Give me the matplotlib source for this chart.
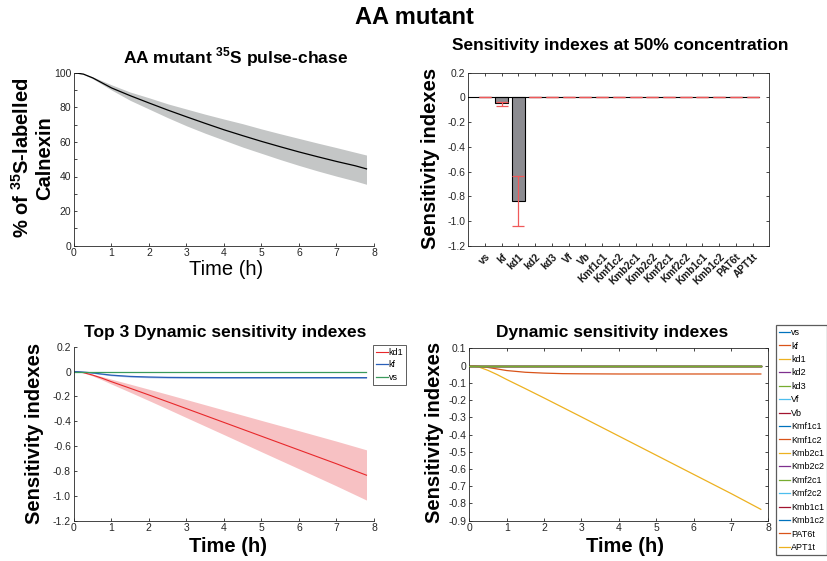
import matplotlib
matplotlib.use("Agg")
import matplotlib.pyplot as plt
from matplotlib.ticker import MultipleLocator

plt.rcParams['font.family'] = ['Liberation Sans', 'DejaVu Sans']
plt.rcParams['mathtext.fontset'] = 'custom'
plt.rcParams['mathtext.rm'] = 'Liberation Sans'
plt.rcParams['mathtext.bf'] = 'Liberation Sans:bold'
plt.rcParams['axes.unicode_minus'] = False

# ---- 35S pulse-chase of Calnexin (model mean and spread) ----
chase_t = [0, 0.25, 0.5, 1, 1.5, 2, 2.5, 3, 3.5, 4, 4.5, 5, 5.5, 6, 6.5, 7, 7.5, 7.8]
chase_mean = [100, 99.2, 97.0, 91.2, 86.7, 82.5, 78.4, 74.5, 70.7, 67.0, 63.6, 60.3, 57.2, 54.2, 51.4, 48.7, 46.2, 44.4]
chase_hi = [100, 99.4, 97.6, 93.0, 88.8, 85.5, 82.0, 79.0, 76.0, 73.2, 70.5, 67.5, 64.7, 62.0, 59.3, 56.7, 54.0, 52.4]
chase_lo = [100, 99.0, 96.5, 90.0, 84.0, 79.0, 74.0, 69.3, 65.0, 61.0, 57.0, 53.4, 49.8, 46.4, 43.2, 40.2, 37.4, 35.5]

# ---- sensitivity indexes at 50% concentration ----
param_names = ['vs', 'kf', 'kd1', 'kd2', 'kd3', 'Vf', 'Vb', 'Kmf1c1', 'Kmf1c2',
               'Kmb2c1', 'Kmb2c2', 'Kmf2c1', 'Kmf2c2', 'Kmb1c1', 'Kmb1c2', 'PAT6t', 'APT1t']
bar_mean = [0, -0.048, -0.834, 0, 0, 0, 0, 0, 0, 0, 0, 0, 0, 0, 0, 0, 0]
bar_upper = [0, -0.034, -0.632, 0, 0, 0, 0, 0, 0, 0, 0, 0, 0, 0, 0, 0, 0]
bar_lower = [0, -0.065, -1.036, 0, 0, 0, 0, 0, 0, 0, 0, 0, 0, 0, 0, 0, 0]

# ---- dynamic sensitivity indexes over time ----
dyn_t = [0, 0.25, 0.5, 0.75, 1, 1.5, 2, 2.5, 3, 4, 5, 6, 7, 7.8]
dyn_kd1 = [0, -0.008, -0.028, -0.053, -0.081, -0.134, -0.188, -0.243, -0.298, -0.409, -0.520, -0.631, -0.742, -0.834]
dyn_kd1_hi = [0, -0.006, -0.021, -0.040, -0.061, -0.101, -0.142, -0.183, -0.225, -0.309, -0.393, -0.476, -0.560, -0.630]
dyn_kd1_lo = [0, -0.010, -0.035, -0.066, -0.100, -0.166, -0.233, -0.301, -0.370, -0.507, -0.645, -0.782, -0.920, -1.034]
dyn_kf = [0, -0.004, -0.011, -0.020, -0.029, -0.039, -0.044, -0.047, -0.048, -0.049, -0.049, -0.049, -0.049, -0.049]
dyn_kf_hi = [0, -0.003, -0.008, -0.016, -0.024, -0.033, -0.038, -0.041, -0.042, -0.043, -0.043, -0.043, -0.043, -0.043]
dyn_kf_lo = [0, -0.005, -0.014, -0.024, -0.034, -0.045, -0.050, -0.053, -0.054, -0.055, -0.055, -0.055, -0.055, -0.055]
dyn_zero = [0, 0, 0, 0, 0, 0, 0, 0, 0, 0, 0, 0, 0, 0]

matlab_colors = ['#0072BD', '#D95319', '#EDB120', '#7E2F8E', '#77AC30', '#4DBEEE', '#A2142F']

AX_COL = '#262626'
TICK_FS = 7.5
LABEL_FS = 14.5
TITLE_FS = 12.5


def style_axes(ax, box):
    for side in ['left', 'bottom', 'top', 'right']:
        ax.spines[side].set_color(AX_COL)
        ax.spines[side].set_linewidth(0.6)
        if not box and side in ('top', 'right'):
            ax.spines[side].set_visible(False)
    ax.tick_params(which='both', direction='in', length=2.5, width=0.6, color=AX_COL,
                   labelsize=TICK_FS, labelcolor=AX_COL, pad=2,
                   top=box, right=box)


def set_yticks_fmt(ax, ticks):
    ax.set_yticks(ticks)
    ax.set_yticklabels(['0' if abs(v) < 1e-9 else f'{v:.1f}' for v in ticks])


W, H = 828, 561
fig = plt.figure(figsize=(W / 100, H / 100), dpi=100)


def px_axes(left, right, top, bottom):
    return fig.add_axes([left / W, 1 - bottom / H, (right - left) / W, (bottom - top) / H])


fig.text(0.5, 1 - 18 / H, 'AA mutant', ha='center', va='center', fontsize=17, fontweight='bold')

# ---------------- top left: pulse-chase ----------------
ax1 = px_axes(74, 374, 72.7, 245.7)
ax1.fill_between(chase_t, chase_lo, chase_hi, color='#c4c6c6', linewidth=0)
ax1.plot(chase_t, chase_mean, color='black', linewidth=0.9)
ax1.set_xlim(0, 8)
ax1.set_ylim(0, 100)
ax1.set_xticks(range(0, 9))
ax1.set_yticks(range(0, 101, 20))
ax1.yaxis.set_minor_locator(MultipleLocator(10))
style_axes(ax1, box=False)
ax1.set_title(r'AA mutant $^{\mathbf{35}}$S pulse-chase', fontsize=TITLE_FS, fontweight='bold',
              x=0.54, pad=7)
ax1.set_xlabel('Time (h)', fontsize=LABEL_FS, va='center')
ax1.xaxis.set_label_coords(0.507, -0.14)
ax1.set_ylabel('% of $^{\\mathbf{35}}$S-labelled\nCalnexin', fontsize=LABEL_FS, fontweight='bold',
               va='center', linespacing=1.2)
ax1.yaxis.set_label_coords(-0.138, 0.507)

# ---------------- top right: bar chart ----------------
ax2 = px_axes(468.3, 769.3, 72.7, 246)
pos = list(range(1, len(param_names) + 1))
ax2.bar(pos, bar_mean, width=0.8, color='#8c8c91', edgecolor='black', linewidth=0.8, zorder=2)
ax2.axhline(0, xmin=0, xmax=17.4 / 18, color='black', linewidth=0.8, zorder=3)
err_lo = [m - lo for m, lo in zip(bar_mean, bar_lower)]
err_hi = [hi - m for m, hi in zip(bar_mean, bar_upper)]
ax2.errorbar(pos, bar_mean, yerr=[err_lo, err_hi], fmt='none', ecolor='#f0595a',
             elinewidth=0.9, capsize=4, capthick=0.9, zorder=4)
ax2.set_xlim(0, 18)
ax2.set_ylim(-1.2, 0.2)
set_yticks_fmt(ax2, [0.2, 0, -0.2, -0.4, -0.6, -0.8, -1.0, -1.2])
ax2.set_xticks(pos)
ax2.set_xticklabels(param_names, rotation=45, ha='right', rotation_mode='anchor',
                    fontsize=7, fontweight='bold')
style_axes(ax2, box=True)
ax2.tick_params(axis='x', labelsize=7.3, labelcolor='#1a1a1a', pad=4)
ax2.set_title('Sensitivity indexes at 50% concentration', fontsize=TITLE_FS, fontweight='bold',
              x=0.506, pad=16)
ax2.set_ylabel('Sensitivity indexes', fontsize=LABEL_FS, fontweight='bold', va='center')
ax2.yaxis.set_label_coords(-0.125, 0.506)

# ---------------- bottom left: top 3 dynamic ----------------
ax3 = px_axes(73.7, 374, 346.7, 520.7)
ax3.fill_between(dyn_t, dyn_kd1_lo, dyn_kd1_hi, color='#f7c1c3', linewidth=0)
ax3.fill_between(dyn_t, dyn_kf_lo, dyn_kf_hi, color='#aec3e6', linewidth=0)
ax3.plot(dyn_t, dyn_kd1, color='#e8282b', linewidth=0.8, label='kd1')
ax3.plot(dyn_t, dyn_kf, color='#2a5fb8', linewidth=0.9, label='kf')
ax3.plot(dyn_t, dyn_zero, color='#3a9a5c', linewidth=0.9, label='vs')
ax3.set_xlim(0, 8)
ax3.set_ylim(-1.2, 0.2)
ax3.set_xticks(range(0, 9))
set_yticks_fmt(ax3, [0.2, 0, -0.2, -0.4, -0.6, -0.8, -1.0, -1.2])
style_axes(ax3, box=False)
ax3.set_title('Top 3 Dynamic sensitivity indexes', fontsize=TITLE_FS, fontweight='bold',
              x=0.504, pad=6.8)
ax3.set_xlabel('Time (h)', fontsize=LABEL_FS, fontweight='bold', va='center')
ax3.xaxis.set_label_coords(0.515, -0.149)
ax3.set_ylabel('Sensitivity indexes', fontsize=LABEL_FS, fontweight='bold', va='center')
ax3.yaxis.set_label_coords(-0.129, 0.504)
leg3 = ax3.legend(loc='upper left', bbox_to_anchor=(373.3 / W, 1 - 345 / H),
                  bbox_transform=fig.transFigure, fontsize=6.5, frameon=True, fancybox=False,
                  borderaxespad=0, borderpad=0.3, handlelength=1.3, handletextpad=0.1,
                  labelspacing=0.4)
leg3.get_frame().set_edgecolor('#333333')
leg3.get_frame().set_linewidth(0.7)

# ---------------- bottom right: all dynamic ----------------
ax4 = px_axes(469.3, 768.3, 348.3, 520.7)
dyn_series = {name: dyn_zero for name in param_names}
dyn_series['kf'] = dyn_kf
dyn_series['kd1'] = dyn_kd1
for i, name in enumerate(param_names):
    col = matlab_colors[i % len(matlab_colors)]
    z = 3 if col == '#77AC30' else 2
    ax4.plot(dyn_t, dyn_series[name], color=col, linewidth=0.9, label=name, zorder=z)
ax4.set_xlim(0, 8)
ax4.set_ylim(-0.9, 0.1)
ax4.set_xticks(range(0, 9))
set_yticks_fmt(ax4, [0.1, 0, -0.1, -0.2, -0.3, -0.4, -0.5, -0.6, -0.7, -0.8, -0.9])
style_axes(ax4, box=True)
ax4.set_title('Dynamic sensitivity indexes', fontsize=TITLE_FS, fontweight='bold',
              x=0.477, pad=8)
ax4.set_xlabel('Time (h)', fontsize=LABEL_FS, fontweight='bold', va='center')
ax4.xaxis.set_label_coords(0.52, -0.149)
ax4.set_ylabel('Sensitivity indexes', fontsize=LABEL_FS, fontweight='bold', va='center')
ax4.yaxis.set_label_coords(-0.115, 0.513)
leg4 = ax4.legend(loc='upper left', bbox_to_anchor=(776 / W, 1 - 325 / H),
                  bbox_transform=fig.transFigure, fontsize=6.5, frameon=True, fancybox=False,
                  borderaxespad=0, borderpad=0.35, handlelength=1.2, handletextpad=0.1,
                  labelspacing=0.49)
leg4.get_frame().set_edgecolor('#333333')
leg4.get_frame().set_linewidth(0.9)

fig.savefig('out.png', dpi=100)
